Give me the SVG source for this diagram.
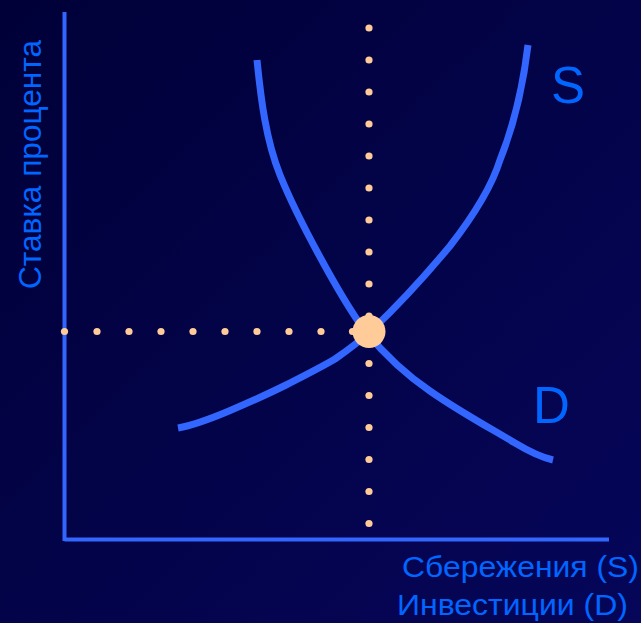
<svg xmlns="http://www.w3.org/2000/svg" width="641" height="623" viewBox="0 0 641 623">
  <defs>
    <linearGradient id="bg" x1="0" y1="0" x2="1" y2="1">
      <stop offset="0" stop-color="#000038"/>
      <stop offset="1" stop-color="#06065a"/>
    </linearGradient>
    <style>
      .axis { stroke: #3366ff; stroke-width: 4; fill: none; }
      .curve { stroke: #3366ff; stroke-width: 7; fill: none; }
      .dot { fill: #ffcc99; }
      .lbl { fill: #0066ff; font-family: "Liberation Sans", Arial, sans-serif; }
    </style>
  </defs>
  <rect width="641" height="623" fill="url(#bg)"/>

  <g id="axes">
    <line class="axis" x1="64.5" y1="12" x2="64.5" y2="541"/>
    <line class="axis" x1="64.5" y1="539.5" x2="609" y2="539.5"/>
  </g>

  <g id="connectors">
    <g id="guide-vertical">
      <circle class="dot" cx="369" cy="28" r="3.6"/>
      <circle class="dot" cx="369" cy="60" r="3.6"/>
      <circle class="dot" cx="369" cy="92" r="3.6"/>
      <circle class="dot" cx="369" cy="124" r="3.6"/>
      <circle class="dot" cx="369" cy="156" r="3.6"/>
      <circle class="dot" cx="369" cy="188" r="3.6"/>
      <circle class="dot" cx="369" cy="220" r="3.6"/>
      <circle class="dot" cx="369" cy="252" r="3.6"/>
      <circle class="dot" cx="369" cy="284" r="3.6"/>
      <circle class="dot" cx="369" cy="316" r="3.6"/>
      <circle class="dot" cx="369" cy="363.5" r="3.6"/>
      <circle class="dot" cx="369" cy="395.5" r="3.6"/>
      <circle class="dot" cx="369" cy="427.5" r="3.6"/>
      <circle class="dot" cx="369" cy="459.5" r="3.6"/>
      <circle class="dot" cx="369" cy="491.5" r="3.6"/>
      <circle class="dot" cx="369" cy="523.5" r="3.6"/>
    </g>
    <g id="guide-horizontal">
      <circle class="dot" cx="64.5" cy="331.5" r="3.6"/>
      <circle class="dot" cx="97" cy="331.5" r="3.6"/>
      <circle class="dot" cx="129" cy="331.5" r="3.6"/>
      <circle class="dot" cx="161" cy="331.5" r="3.6"/>
      <circle class="dot" cx="193" cy="331.5" r="3.6"/>
      <circle class="dot" cx="225" cy="331.5" r="3.6"/>
      <circle class="dot" cx="257" cy="331.5" r="3.6"/>
      <circle class="dot" cx="289" cy="331.5" r="3.6"/>
      <circle class="dot" cx="321" cy="331.5" r="3.6"/>
      <circle class="dot" cx="352.5" cy="331.5" r="3.6"/>
    </g>
  </g>

  <g id="curve-S">
    <path class="curve" d="M178,428 C195,425 210,419 229,411 C250,402 268,394 286,385 C305,375 320,368 335,359 C348,350 360,341 372,330 C390,313 420,282 450,246 C471,219 491,189 500,160 C512,130 522,95 528,45"/>
  </g>
  <g id="curve-D">
    <path class="curve" d="M257,60 C261,100 266,140 280,175 C295,212 312,243 330,275 C342,296 352,314 366,332 C385,355 405,374 430,391 C460,412 490,428 515,443 C530,452 540,457 553,460"/>
  </g>

  <g id="equilibrium">
    <circle class="dot" cx="369" cy="331.5" r="16.5"/>
  </g>

  <g id="labels">
    <text class="lbl" x="551" y="103" font-size="51">S</text>
    <text class="lbl" x="533" y="423" font-size="51">D</text>
    <text class="lbl" x="402" y="577" font-size="29" textLength="237" lengthAdjust="spacingAndGlyphs">Сбережения (S)</text>
    <text class="lbl" x="397" y="615" font-size="29" textLength="231" lengthAdjust="spacingAndGlyphs">Инвестиции (D)</text>
    <text class="lbl" transform="translate(41,289) rotate(-90)" x="0" y="0" font-size="32" textLength="249" lengthAdjust="spacingAndGlyphs">Ставка процента</text>
  </g>
</svg>
